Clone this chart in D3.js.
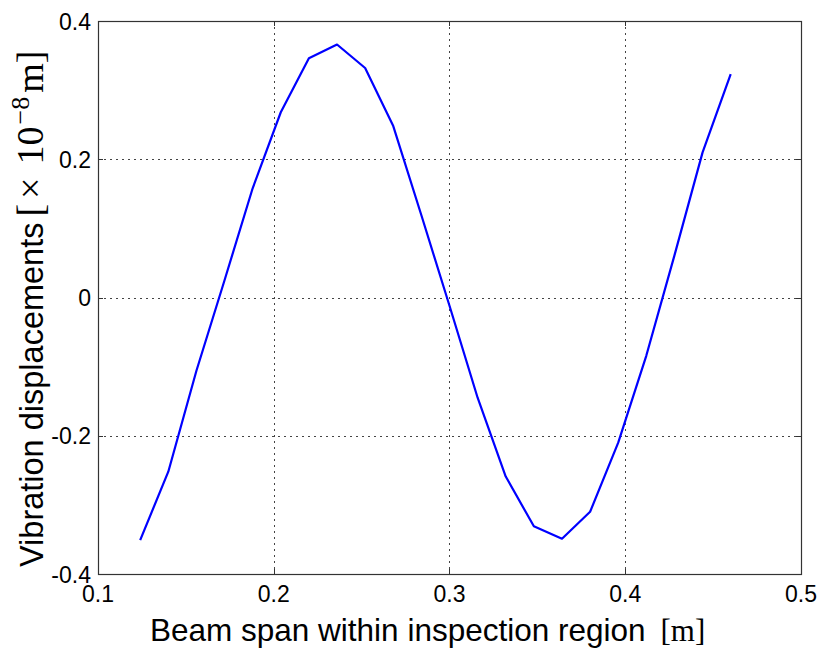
<!DOCTYPE html>
<html>
<head>
<meta charset="utf-8">
<script src="https://cdn.jsdelivr.net/npm/d3@7"></script>
<style>
  html, body { margin: 0; padding: 0; background: #fff; }
  svg { display: block; }
  .tick-label { font-family: "Liberation Sans", Arial, sans-serif; font-size: 23px; fill: #000; }
  .axis-title { font-family: "Liberation Sans", Arial, sans-serif; fill: #000; }
  .serif { font-family: "Liberation Serif", "Times New Roman", serif; }
</style>
</head>
<body>
<svg id="chart" width="822" height="655"></svg>
<script>
// Beam span positions [m] and measured vibration displacements [x 1e-8 m]
const spanPositions = [0.124, 0.140, 0.156, 0.172, 0.188, 0.204, 0.220, 0.236, 0.252, 0.268, 0.284,
                       0.300, 0.316, 0.332, 0.348, 0.364, 0.380, 0.396, 0.412, 0.428, 0.444, 0.460];
const displacements = [-0.351, -0.252, -0.106, 0.025, 0.158, 0.268, 0.346, 0.366, 0.332, 0.248, 0.119,
                       -0.012, -0.145, -0.259, -0.331, -0.349, -0.310, -0.210, -0.084, 0.061, 0.210, 0.323];
const xTicks = [0.1, 0.2, 0.3, 0.4, 0.5];
const yTicks = [-0.4, -0.2, 0, 0.2, 0.4];

const svg = d3.select("#chart");
const plotL = 98, plotR = 801, plotT = 21, plotB = 574;

const x = d3.scaleLinear().domain([0.1, 0.5]).range([plotL, plotR]);
const y = d3.scaleLinear().domain([-0.4, 0.4]).range([plotB, plotT]);

// plain hyphen for negatives, bare "0" at the origin
const fmt = v => (v === 0 ? "0" : v.toFixed(1));

// dotted grid
const grid = svg.append("g").attr("stroke", "#444").attr("stroke-width", 1)
  .attr("stroke-dasharray", "1.5,4.5").attr("shape-rendering", "crispEdges");
grid.selectAll(".gx").data(xTicks.slice(1, -1)).join("line")
  .attr("x1", d => Math.round(x(d)) + 0.5).attr("x2", d => Math.round(x(d)) + 0.5)
  .attr("y1", plotT).attr("y2", plotB);
grid.selectAll(".gy").data(yTicks.slice(1, -1)).join("line")
  .attr("y1", d => Math.round(y(d)) + 0.5).attr("y2", d => Math.round(y(d)) + 0.5)
  .attr("x1", plotL).attr("x2", plotR);

// short inward ticks on all four sides
const ticks = svg.append("g").attr("stroke", "#333").attr("stroke-width", 1).attr("shape-rendering", "crispEdges");
const tl = 5;
xTicks.forEach(d => {
  const px = Math.round(x(d)) + 0.5;
  ticks.append("line").attr("x1", px).attr("x2", px).attr("y1", plotB).attr("y2", plotB - tl);
  ticks.append("line").attr("x1", px).attr("x2", px).attr("y1", plotT).attr("y2", plotT + tl);
});
yTicks.forEach(d => {
  const py = Math.round(y(d)) + 0.5;
  ticks.append("line").attr("y1", py).attr("y2", py).attr("x1", plotL).attr("x2", plotL + tl);
  ticks.append("line").attr("y1", py).attr("y2", py).attr("x1", plotR).attr("x2", plotR - tl);
});

// axes box
svg.append("rect")
  .attr("x", plotL + 0.5).attr("y", plotT + 0.5)
  .attr("width", plotR - plotL).attr("height", plotB - plotT)
  .attr("fill", "none").attr("stroke", "#333").attr("stroke-width", 1.2);

// tick labels
svg.append("g").selectAll("text").data(xTicks).join("text")
  .attr("class", "tick-label")
  .attr("x", d => x(d)).attr("y", plotB + 28)
  .attr("text-anchor", "middle")
  .text(fmt);
svg.append("g").selectAll("text").data(yTicks).join("text")
  .attr("class", "tick-label")
  .attr("x", plotL - 7).attr("y", d => y(d) + 8.5)
  .attr("text-anchor", "end")
  .text(fmt);

// data line
const line = d3.line().x((d, i) => x(spanPositions[i])).y(d => y(d));
svg.append("path")
  .datum(displacements)
  .attr("d", line)
  .attr("fill", "none")
  .attr("stroke", "#0000ff")
  .attr("stroke-width", 2.2)
  .attr("stroke-linejoin", "round");

// x axis title
const xt = svg.append("text").attr("class", "axis-title").attr("font-size", 31.5)
  .attr("x", 150).attr("y", 641).attr("text-anchor", "start");
xt.append("tspan").text("Beam span within inspection region");
xt.append("tspan").attr("class", "serif").attr("font-size", 31).attr("dx", 15).text("[m]");

// y axis title, written bottom-to-top
const yt = svg.append("text").attr("class", "axis-title").attr("font-size", 32.5)
  .attr("transform", `translate(43, 567) rotate(-90)`)
  .attr("text-anchor", "start");
yt.append("tspan").text("Vibration displacements");
yt.append("tspan").attr("class", "serif").attr("font-size", 38).attr("dx", 6).text("[");
yt.append("tspan").attr("class", "serif").attr("font-size", 38).attr("dx", 5).text("×");
yt.append("tspan").attr("class", "serif").attr("font-size", 38).attr("dx", 13).text("10");
yt.append("tspan").attr("class", "serif").attr("font-size", 26).attr("dx", 2).attr("dy", -14).text("−8");
yt.append("tspan").attr("class", "serif").attr("font-size", 38).attr("dx", 4).attr("dy", 14).text("m]");
</script>
</body>
</html>
